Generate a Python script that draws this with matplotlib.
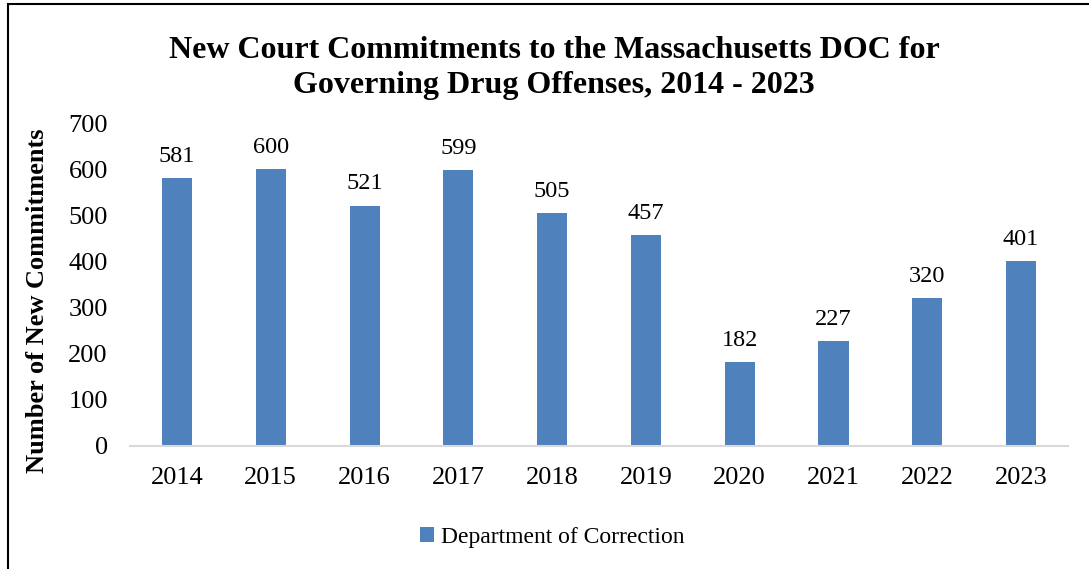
import matplotlib.pyplot as plt
from matplotlib.patches import Rectangle

years = ['2014', '2015', '2016', '2017', '2018', '2019', '2020', '2021', '2022', '2023']
commitments = [581, 600, 521, 599, 505, 457, 182, 227, 320, 401]
yticks = [0, 100, 200, 300, 400, 500, 600, 700]

plt.rcParams['font.family'] = ['Liberation Serif', 'DejaVu Serif']

fig = plt.figure(figsize=(10.89, 5.69), dpi=100)
ax = fig.add_axes([0.1194, 0.2162, 0.8613, 0.5676])

x = range(len(years))
bars = ax.bar(x, commitments, width=0.32, color='#4F81BD', label='Department of Correction')
for rect, v in zip(bars, commitments):
    ax.annotate(str(v), (rect.get_x() + rect.get_width() / 2, v), xytext=(0, 8),
                textcoords='offset points', ha='center', va='bottom', fontsize=17.5)

ax.set_xlim(-0.5, len(years) - 0.5)
ax.set_ylim(0, 700)
ax.set_yticks(yticks)
ax.set_xticks(list(x))
ax.set_xticklabels(years)
ax.tick_params(axis='both', length=0, labelsize=19)
ax.tick_params(axis='y', pad=16)
ax.tick_params(axis='x', pad=15)
for s in ['top', 'right', 'left']:
    ax.spines[s].set_visible(False)
ax.spines['bottom'].set_color('#D9D9D9')
ax.spines['bottom'].set_linewidth(1.5)

ax.set_ylabel('Number of New Commitments', fontsize=19, fontweight='bold')
ax.yaxis.set_label_coords(-0.086, 0.45)
fig.text(0.509, 0.88, 'New Court Commitments to the Massachusetts DOC for\nGoverning Drug Offenses, 2014 - 2023',
         ha='center', va='center', fontsize=23, fontweight='bold', linespacing=1.28)

fig.legend(loc='center', bbox_to_anchor=(0.507, 0.056), frameon=False, fontsize=17,
           handlelength=0.6, handleheight=0.6, handletextpad=0.3)

# border of the chart area
fig.patches.append(Rectangle((0.0075, -0.05), 1.1, 1.043, transform=fig.transFigure,
                             fill=False, edgecolor='black', linewidth=1.5))

fig.savefig('out.png', dpi=100)
